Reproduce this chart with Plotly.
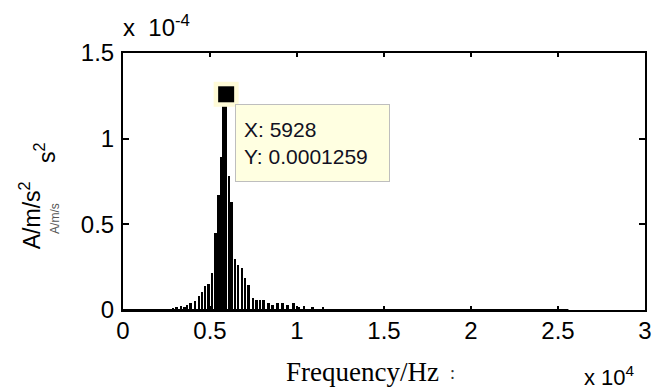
import plotly.graph_objects as go

# ---- data (frequency in Hz, amplitude in units of 1e-4 A/m/s^2) ----
spike_freq_hz = [2900, 3100, 3360, 3550, 3700, 3900, 4140, 4390, 4560, 4740, 4930, 5140,
                 5330, 5500, 5660, 5800, 5928, 6100, 6260, 6450, 6640, 6840, 7030, 7220,
                 7470, 7690, 7880, 8090, 8370, 8600, 8890, 9190, 9470, 9810, 10100, 10400,
                 10900, 11500]
spike_amp_e4 = [0.010, 0.015, 0.023, 0.020, 0.030, 0.040, 0.050, 0.080, 0.107, 0.140, 0.152, 0.215,
                0.450, 0.670, 0.895, 1.200, 1.259, 0.780, 0.630, 0.300, 0.263, 0.245, 0.187, 0.146,
                0.070, 0.060, 0.060, 0.060, 0.040, 0.030, 0.040, 0.040, 0.030, 0.040, 0.020, 0.025,
                0.015, 0.020]
floor_freq_hz = [0, 25600]
floor_amp_e4 = [0.002, 0.002]

peak_freq_hz = 5928
peak_amp = 0.0001259

x_tickvals = [0, 5000, 10000, 15000, 20000, 25000, 30000]
x_ticktext = ["0", "0.5", "1", "1.5", "2", "2.5", "3"]
y_tickvals_e4 = [0, 0.5, 1.0, 1.5]
y_ticktext = ["0", "0.5", "1", "1.5"]

SCALE = 1e-4
W, H = 659, 392
ML, MR, MT, MB = 123, 7, 53, 82
PW, PH = W - ML - MR, H - MT - MB


def px(x):
    return (x - ML) / PW


def py(y):
    return (H - MB - y) / PH


TICK_FONT = dict(family="Liberation Sans, Arial", size=24, color="black")

fig = go.Figure()
fig.add_trace(go.Scatter(
    x=floor_freq_hz, y=[v * SCALE for v in floor_amp_e4], mode="lines",
    line=dict(color="black", width=1.2), hoverinfo="skip", showlegend=False))
fig.add_trace(go.Bar(
    x=spike_freq_hz, y=[v * SCALE for v in spike_amp_e4], width=110,
    marker=dict(color="black", line=dict(width=0)), showlegend=False))
# data tip marker
fig.add_trace(go.Scatter(
    x=[peak_freq_hz], y=[peak_amp], mode="markers",
    marker=dict(symbol="square", size=25, color="#FFFBD8", line=dict(width=0)),
    showlegend=False))
fig.add_trace(go.Scatter(
    x=[peak_freq_hz], y=[peak_amp], mode="markers",
    marker=dict(symbol="square", size=16, color="black", line=dict(width=0)),
    showlegend=False))

fig.update_layout(
    width=W, height=H,
    margin=dict(l=ML, r=MR, t=MT, b=MB, pad=0),
    paper_bgcolor="white", plot_bgcolor="white",
    bargap=0,
    xaxis=dict(range=[0, 30000], tickvals=x_tickvals, ticktext=x_ticktext,
               showgrid=False, zeroline=False, showline=True, linecolor="black",
               linewidth=2, mirror="allticks", ticks="inside", ticklen=4,
               tickwidth=1.5, tickcolor="black", tickfont=TICK_FONT,
               ticklabelstandoff=-2),
    yaxis=dict(range=[0, 1.5e-4], tickvals=[v * SCALE for v in y_tickvals_e4],
               ticktext=y_ticktext, showgrid=False, zeroline=False, showline=True,
               linecolor="black", linewidth=2, mirror="allticks", ticks="inside",
               ticklen=6, tickwidth=1.5, tickcolor="black", tickfont=TICK_FONT,
               ticklabelstandoff=2),
)

annots = [
    # data tip box
    dict(x=peak_freq_hz, y=peak_amp, xref="x", yref="y", xanchor="left", yanchor="top",
         xshift=8.5, yshift=-10, showarrow=False, align="left", valign="middle",
         text=f"X: {peak_freq_hz}<br>Y: {peak_amp:.7f}",
         font=dict(family="Liberation Sans, Arial", size=21, color="#111122"),
         bgcolor="#FFFFE1", bordercolor="#BEBEBE", borderwidth=1, borderpad=8,
         width=137, height=60),
    # exponent labels
    dict(x=px(121), y=py(37), xref="paper", yref="paper", xanchor="left", yanchor="bottom",
         yshift=-6, showarrow=False, text="x\u00a0\u00a010<sup>-4</sup>",
         font=dict(family="Liberation Sans, Arial", size=24, color="black")),
    dict(x=px(588), y=py(387), xref="paper", yref="paper", xanchor="left", yanchor="bottom",
         yshift=-5, showarrow=False, text="x 10<sup>4</sup>",
         font=dict(family="Liberation Sans, Arial", size=22, color="black")),
    # axis titles
    dict(x=px(366), y=py(372), xref="paper", yref="paper", xanchor="center", yanchor="middle",
         showarrow=False, text="Frequency/Hz",
         font=dict(family="Liberation Serif, Times New Roman", size=27, color="black")),
    dict(x=px(457), y=py(373), xref="paper", yref="paper", xanchor="center", yanchor="middle",
         showarrow=False, text=":",
         font=dict(family="Liberation Serif", size=18, color="#333")),
    dict(x=px(29), y=py(215), xref="paper", yref="paper", xanchor="center", yanchor="middle",
         showarrow=False, textangle=-90, text="A/m/s<sup>2</sup>",
         font=dict(family="Liberation Sans, Arial", size=23, color="black")),
    dict(x=px(44), y=py(153), xref="paper", yref="paper", xanchor="center", yanchor="middle",
         showarrow=False, textangle=-90, text="s<sup>2</sup>",
         font=dict(family="Liberation Sans, Arial", size=23, color="black")),
    dict(x=px(54), y=py(218), xref="paper", yref="paper", xanchor="center", yanchor="middle",
         showarrow=False, textangle=-90, text="A/m/s",
         font=dict(family="Liberation Sans, Arial", size=12, color="#555")),
]
fig.update_layout(annotations=annots)

fig.write_html("out.html")
